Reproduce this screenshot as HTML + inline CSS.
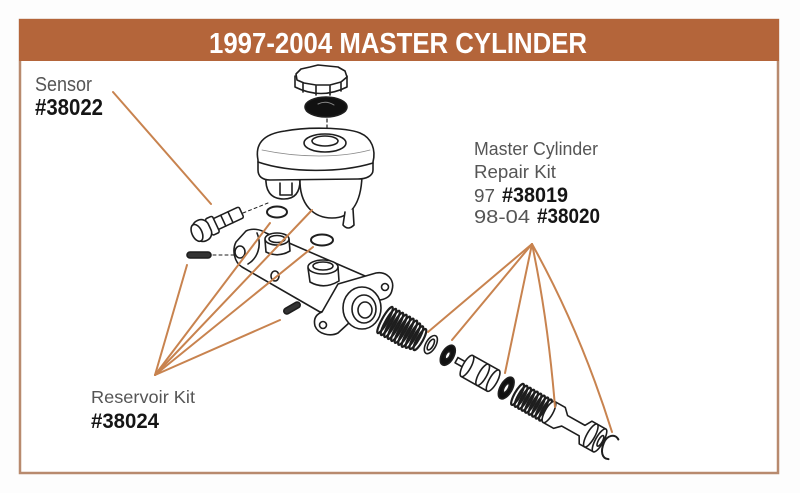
<!DOCTYPE html>
<html><head><meta charset="utf-8"><style>
html,body{margin:0;padding:0;background:#fff;}
svg{display:block;}
</style></head><body>
<svg width="800" height="493" viewBox="0 0 800 493" xmlns="http://www.w3.org/2000/svg">
<rect x="0" y="0" width="800" height="493" fill="#fdfdfd"/>
<rect x="20" y="20" width="758" height="453" fill="#fff" stroke="#b88a6e" stroke-width="2.5"/>
<rect x="19" y="19" width="760" height="42" fill="#b4653a"/>
<text x="209" y="53" textLength="378" lengthAdjust="spacingAndGlyphs" font-family="'Liberation Sans Narrow','Liberation Sans',sans-serif" font-weight="700" font-size="29" fill="#fff">1997-2004 MASTER CYLINDER</text>

<!-- labels -->
<g font-family="'Liberation Sans Narrow','Liberation Sans',sans-serif">
<text x="35" y="91" textLength="57" lengthAdjust="spacingAndGlyphs" font-size="20" fill="#555">Sensor</text>
<text x="35" y="115" textLength="68" lengthAdjust="spacingAndGlyphs" font-size="23" font-weight="700" fill="#151515">#38022</text>
<text x="474" y="155" textLength="124" lengthAdjust="spacingAndGlyphs" font-size="18" fill="#555">Master Cylinder</text>
<text x="474" y="178" textLength="82" lengthAdjust="spacingAndGlyphs" font-size="18" fill="#555">Repair Kit</text>
<text x="474" y="202" textLength="21" lengthAdjust="spacingAndGlyphs" font-size="18" fill="#555">97</text>
<text x="502" y="202" textLength="66" lengthAdjust="spacingAndGlyphs" font-size="21" font-weight="700" fill="#151515">#38019</text>
<text x="474" y="223" textLength="56" lengthAdjust="spacingAndGlyphs" font-size="18" fill="#555">98-04</text>
<text x="537" y="223" textLength="63" lengthAdjust="spacingAndGlyphs" font-size="21" font-weight="700" fill="#151515">#38020</text>
<text x="91" y="403" textLength="104" lengthAdjust="spacingAndGlyphs" font-size="17.5" fill="#555">Reservoir Kit</text>
<text x="91" y="428" textLength="68" lengthAdjust="spacingAndGlyphs" font-size="21" font-weight="700" fill="#151515">#38024</text>
</g>

<!-- drawing -->
<g stroke="#1e1e1e" stroke-width="1.6" fill="#fff" stroke-linejoin="round" stroke-linecap="round">
  <!-- cap -->
  <path d="M295,76 L295,87 Q321,100 347,87 L347,76"/>
  <path d="M296,74 L301,69 L310,67 L318,65 L328,66 L338,67 L345,71 L347,77 L341,82 L330,85 L316,85 L304,83 L297,80 Z"/>
  <path d="M303,83 L303,92 M316,86 L316,95 M330,86 L330,95 M341,83 L341,91" fill="none"/>
  <!-- diaphragm -->
  <ellipse cx="326" cy="107" rx="21" ry="10" fill="#111"/>
  <path d="M318,104 Q326,100 334,105" stroke="#888" stroke-width="1" fill="none"/>
  <path d="M327,119 L327,136" stroke-dasharray="3,3" stroke-width="1.2" fill="none"/>
  <!-- reservoir lower pods -->
  <path d="M266,176 C265,190 270,199 284,199 C296,199 300,191 300,180 Z"/>
  <path d="M300,178 C299,205 314,218 332,218 C350,218 361,205 362,176 Z"/>
  <path d="M345,212 L343,225 Q348,231 354,225 L353,209"/>
  <path d="M280,183 L280,195 L292,195 L292,183" />
  <!-- reservoir upper shell -->
  <path d="M258,160 C255,145 262,134 285,131 C305,127 345,127 360,133 C372,138 376,150 373,162 L373,170 C373,176 366,179 358,179 L270,180 C262,180 258,176 258,170 Z"/>
  <path d="M258,162 C290,173 340,173 373,163" fill="none"/>
  <path d="M262,150 C300,158 340,158 370,150" fill="none" stroke-width="0.8" stroke="#888"/>
  <ellipse cx="325" cy="143" rx="21" ry="9"/>
  <ellipse cx="325" cy="141" rx="13" ry="5"/>
  <!-- o-rings -->
  <ellipse cx="277" cy="212" rx="10" ry="5.5" fill="none" stroke-width="2"/>
  <ellipse cx="322" cy="240" rx="11" ry="5.5" fill="none" stroke-width="2"/>
  <!-- sensor -->
  <path d="M243,213 L268,203" stroke-dasharray="3,3" stroke-width="1" fill="none"/>
  <g transform="translate(216,224) rotate(-25)">
    <rect x="-2" y="-6" width="30" height="12" rx="2"/>
    <rect x="-8" y="-9" width="8" height="18" rx="2"/>
    <rect x="-24" y="-11" width="17" height="22" rx="8"/>
    <ellipse cx="-21" cy="0" rx="5" ry="9"/>
    <path d="M8,-6 L8,6 M16,-6 L16,6" fill="none"/>
  </g>
  <!-- left pin -->
  <rect x="187" y="252" width="24" height="6" rx="3" fill="#333"/>
  <path d="M213,255 L234,255" stroke-dasharray="3,3" stroke-width="1" fill="none"/>
  <!-- body -->
  <path d="M246,231 C252,228 260,229 266,233 L372,279 L380,300 L320,312 L242,267 C234,262 232,250 236,242 Z"/>
  <path d="M257,233 C262,245 258,258 248,264" fill="none"/>
  <ellipse cx="240" cy="252" rx="5" ry="6"/>
  <!-- port boss 1 -->
  <path d="M265,240 L266,252 Q278,258 290,251 L289,239"/>
  <ellipse cx="277" cy="239" rx="12" ry="6"/>
  <ellipse cx="277" cy="239" rx="8" ry="3.5"/>
  <!-- port boss 2 -->
  <path d="M308,268 L310,282 Q324,290 339,281 L338,267"/>
  <ellipse cx="323" cy="267" rx="15" ry="7"/>
  <ellipse cx="323" cy="266" rx="10" ry="4"/>
  <ellipse cx="275" cy="276" rx="4" ry="5"/>
  <!-- flange -->
  <path d="M338,284 L376,273 C387,271 395,280 392,290 C391,296 386,299 380,300 L350,322 L338,333 C330,337 318,334 315,326 C313,318 317,314 322,312 Z"/>
  <circle cx="385" cy="287" r="3.5"/>
  <circle cx="323" cy="325" r="3.5"/>
  <ellipse cx="362" cy="308" rx="19" ry="21"/>
  <ellipse cx="364" cy="309" rx="12" ry="14"/>
  <ellipse cx="365" cy="310" rx="7" ry="8"/>
  <!-- small pin -->
  <rect x="283" y="305" width="18" height="6" rx="3" fill="#333" transform="rotate(-30 292 308)"/>
  <!-- piston assembly -->
  <g transform="translate(385,320) rotate(29.3)">
    <g fill="none" stroke-width="2.2">
      <ellipse cx="0" cy="0" rx="3" ry="15"/>
      <ellipse cx="4" cy="0" rx="3" ry="15"/>
      <ellipse cx="8" cy="0" rx="3" ry="15"/>
      <ellipse cx="12" cy="0" rx="3" ry="15"/>
      <ellipse cx="16" cy="0" rx="3" ry="15"/>
      <ellipse cx="20" cy="0" rx="3" ry="15"/>
      <ellipse cx="24" cy="0" rx="3" ry="15"/>
      <ellipse cx="28" cy="0" rx="3" ry="15"/>
      <ellipse cx="32" cy="0" rx="3" ry="14"/>
      <ellipse cx="36" cy="0" rx="3" ry="13"/>
      <ellipse cx="40" cy="0" rx="3" ry="12"/>
    </g>
    <ellipse cx="52" cy="-1" rx="5" ry="10"/>
    <ellipse cx="52" cy="-1" rx="2.5" ry="6"/>
    <ellipse cx="72" cy="0" rx="6" ry="11" fill="#111"/>
    <ellipse cx="72" cy="0" rx="2" ry="4" fill="#fff"/>
    <rect x="82" y="-3" width="12" height="6"/>
    <path d="M94,-12 L124,-12 L124,12 L94,12 Z"/>
    <ellipse cx="94" cy="0" rx="4" ry="12"/>
    <ellipse cx="112" cy="0" rx="4" ry="12"/>
    <ellipse cx="124" cy="0" rx="4" ry="12"/>
    <ellipse cx="139" cy="0" rx="6" ry="12" fill="#111"/>
    <ellipse cx="139" cy="0" rx="2" ry="5" fill="#fff"/>
    <g fill="none" stroke-width="2.2">
      <ellipse cx="152" cy="0" rx="3" ry="12"/>
      <ellipse cx="156" cy="0" rx="3" ry="12"/>
      <ellipse cx="160" cy="0" rx="3" ry="12"/>
      <ellipse cx="164" cy="0" rx="3" ry="12"/>
      <ellipse cx="168" cy="0" rx="3" ry="12"/>
      <ellipse cx="172" cy="0" rx="3" ry="12"/>
      <ellipse cx="176" cy="0" rx="3" ry="12"/>
      <ellipse cx="180" cy="0" rx="3" ry="12"/>
      <ellipse cx="184" cy="0" rx="3" ry="12"/>
    </g>
    <path d="M188,-12 L200,-12 L206,-6 L226,-6 L230,-13 L246,-13 L246,13 L230,13 L226,6 L206,6 L200,12 L188,12 Z"/>
    <ellipse cx="188" cy="0" rx="4" ry="12"/>
    <ellipse cx="236" cy="0" rx="4" ry="13"/>
    <ellipse cx="246" cy="0" rx="4" ry="13"/>
    <ellipse cx="247" cy="0" rx="2" ry="6"/>
    <path d="M262,-10 C256,-14 250,-8 251,0 C252,9 257,15 263,12" fill="none" stroke-width="2"/>
  </g>
</g>

<!-- connectors -->
<g stroke="#c8834f" stroke-width="2" fill="none" stroke-linecap="round">
  <line x1="113" y1="92" x2="211" y2="204"/>
  <line x1="155" y1="375" x2="187" y2="265"/>
  <line x1="155" y1="375" x2="270" y2="223"/>
  <line x1="155" y1="375" x2="312" y2="210"/>
  <line x1="155" y1="375" x2="313" y2="247"/>
  <line x1="155" y1="375" x2="280" y2="320"/>
  <line x1="532" y1="244" x2="428" y2="332"/>
  <line x1="532" y1="244" x2="452" y2="340"/>
  <line x1="532" y1="244" x2="505" y2="373"/>
  <path d="M532,244 Q548,320 555,407"/>
  <path d="M532,244 Q580,330 612,432"/>
</g>
</svg>
</body></html>
